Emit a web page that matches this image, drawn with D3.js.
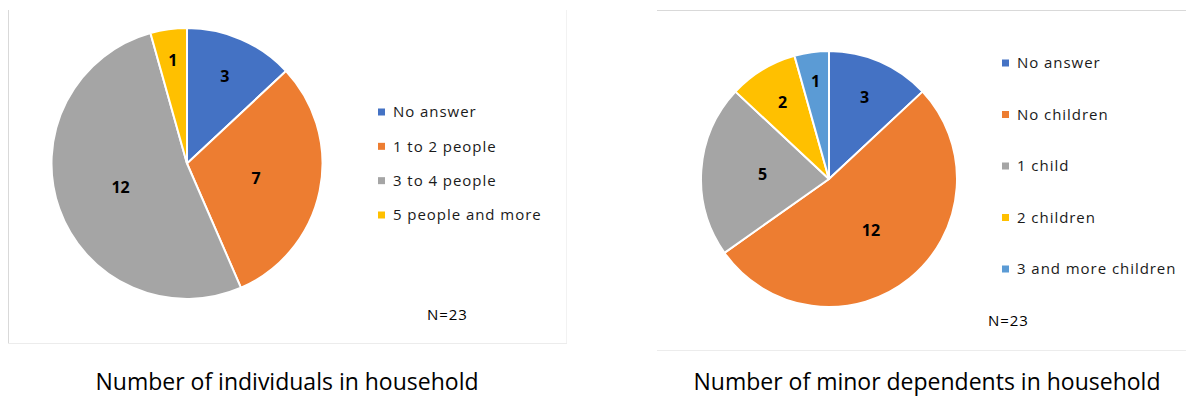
<!DOCTYPE html>
<html>
<head>
<meta charset="utf-8">
<script src="https://cdn.jsdelivr.net/npm/d3@7"></script>
<style>
  html, body { margin: 0; padding: 0; background: #ffffff; }
  svg { display: block; }
  text { font-family: "Open Sans", "DejaVu Sans", sans-serif; }
</style>
</head>
<body>
<svg id="chart" width="1186" height="396"></svg>
<script>
// ---- data ----
const householdCategories = ["No answer", "1 to 2 people", "3 to 4 people", "5 people and more"];
const householdValues = [3, 7, 12, 1];
const householdTitle = "Number of individuals in household";

const minorsCategories = ["No answer", "No children", "1 child", "2 children", "3 and more children"];
const minorsValues = [3, 12, 5, 2, 1];
const minorsTitle = "Number of minor dependents in household";

const sampleNote = "N=23";

const palette = ["#4472C4", "#ED7D31", "#A5A5A5", "#FFC000", "#5B9BD5"];

// ---- drawing ----
const svg = d3.select("#chart");

// frames
const frameColor = "#d9d9d9";
const frameLight = "#ececec";
svg.append("line").attr("x1", 8.5).attr("x2", 8.5).attr("y1", 10).attr("y2", 343).attr("stroke", frameColor);
svg.append("line").attr("x1", 8).attr("x2", 567).attr("y1", 343.5).attr("y2", 343.5).attr("stroke", frameLight);
svg.append("line").attr("x1", 566.5).attr("x2", 566.5).attr("y1", 10).attr("y2", 343).attr("stroke", "#f2f2f2");
svg.append("line").attr("x1", 657).attr("x2", 1186).attr("y1", 10.5).attr("y2", 10.5).attr("stroke", frameColor);
svg.append("line").attr("x1", 657).attr("x2", 1186).attr("y1", 350.5).attr("y2", 350.5).attr("stroke", frameLight);

// label radius depends on slice share (small slices pushed outward)
const labelRadiusFor = d3.scaleThreshold().domain([0.06, 0.15]).range([0.77, 0.70, 0.52]);

function drawPie(cfg) {
  const g = svg.append("g");
  const total = d3.sum(cfg.values);
  const color = d3.scaleOrdinal().domain(cfg.categories).range(palette);
  const pie = d3.pie().sort(null).value(d => d.v);
  const data = pie(cfg.categories.map((c, i) => ({ c, v: cfg.values[i] })));
  const arc = d3.arc().innerRadius(0).outerRadius(cfg.r);

  const pg = g.append("g").attr("transform", `translate(${cfg.cx},${cfg.cy})`);
  pg.selectAll("path").data(data).join("path")
    .attr("d", arc)
    .attr("fill", d => color(d.data.c))
    .attr("stroke", "#ffffff")
    .attr("stroke-width", 2)
    .attr("stroke-linejoin", "round");

  pg.selectAll("text.lbl").data(data).join("text")
    .attr("class", "lbl")
    .each(function (d) {
      const share = d.data.v / total;
      const rr = cfg.r * labelRadiusFor(share);
      const a = (d.startAngle + d.endAngle) / 2;
      d3.select(this)
        .attr("x", Math.sin(a) * rr)
        .attr("y", -Math.cos(a) * rr);
    })
    .attr("text-anchor", "middle")
    .attr("dy", "0.36em")
    .attr("font-size", 16)
    .attr("font-weight", 700)
    .attr("fill", "#000000")
    .text(d => d.data.v);

  // legend
  const y = d3.scalePoint().domain(cfg.categories).range([cfg.legY0, cfg.legY1]);
  const lg = g.append("g");
  const items = lg.selectAll("g").data(cfg.categories).join("g")
    .attr("transform", c => `translate(${cfg.legX},${y(c)})`);
  items.append("rect")
    .attr("x", 0).attr("y", -3.5).attr("width", 7).attr("height", 7)
    .attr("fill", c => color(c));
  items.append("text")
    .attr("x", 15).attr("dy", "0.36em")
    .attr("font-size", 15)
    .attr("letter-spacing", "0.95px")
    .attr("fill", "#1a1a1a")
    .text(c => c);

  // note
  g.append("text")
    .attr("x", cfg.noteX).attr("y", cfg.noteY)
    .attr("font-size", 15)
    .attr("letter-spacing", "0.9px")
    .attr("fill", "#000000")
    .text(sampleNote);

  // title
  g.append("text")
    .attr("x", cfg.titleX).attr("y", 390)
    .attr("text-anchor", "middle")
    .attr("font-size", 23)
    .attr("fill", "#000000")
    .text(cfg.title);
}

drawPie({
  categories: householdCategories, values: householdValues, title: householdTitle,
  cx: 187, cy: 163.5, r: 135.5,
  legX: 378, legY0: 112, legY1: 215,
  noteX: 427, noteY: 320,
  titleX: 287
});

drawPie({
  categories: minorsCategories, values: minorsValues, title: minorsTitle,
  cx: 829, cy: 179, r: 128,
  legX: 1002, legY0: 63, legY1: 269,
  noteX: 988, noteY: 326,
  titleX: 927
});
</script>
</body>
</html>
